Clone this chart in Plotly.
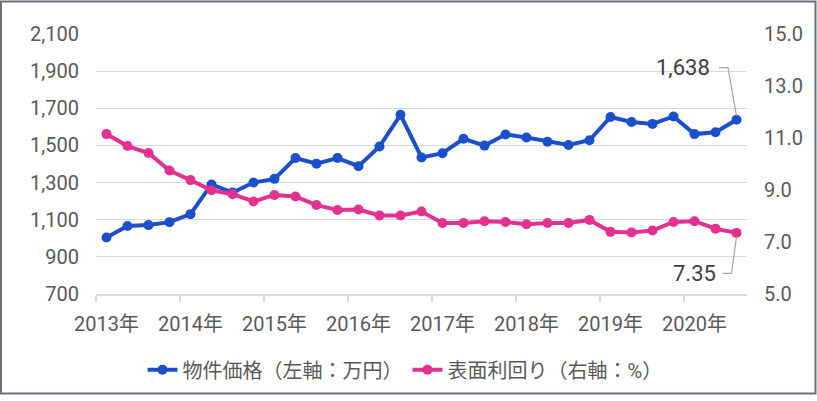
import plotly.graph_objects as go

# ---- data ----
years = ["2013年", "2014年", "2015年", "2016年", "2017年", "2018年", "2019年", "2020年"]
quarters = list(range(31))  # 2013Q1 .. 2020Q3
price = [1004, 1066, 1071, 1087, 1130, 1290, 1246, 1300, 1320, 1432, 1402, 1432, 1388, 1494, 1665,
         1435, 1458, 1536, 1499, 1559, 1543, 1520, 1502, 1528, 1653, 1626, 1616, 1656, 1561, 1571, 1638]
yield_pct = [11.15, 10.69, 10.42, 9.75, 9.38, 8.99, 8.84, 8.56, 8.81, 8.75, 8.42, 8.23, 8.25, 8.02, 8.02,
             8.17, 7.73, 7.73, 7.80, 7.77, 7.68, 7.73, 7.73, 7.85, 7.39, 7.37, 7.44, 7.77, 7.80, 7.51, 7.35]
name_price = "物件価格（左軸：万円）"
name_yield = "表面利回り（右軸：%）"

BLUE = "#1b4fcc"
PINK = "#e3318f"
TXT = "#595959"
GRID = "#d9d9d9"
FONT = "Roboto, 'Noto Sans CJK JP', sans-serif"

W, H = 817, 401
ML, MR, MT, MB = 96, 70, 34, 103
PW, PH = W - ML - MR, H - MT - MB

fig = go.Figure()
fig.add_trace(go.Scatter(x=quarters, y=price, name=name_price, mode="lines+markers",
                         line=dict(color=BLUE, width=4), marker=dict(size=10, color=BLUE)))
fig.add_trace(go.Scatter(x=quarters, y=yield_pct, name=name_yield, mode="lines+markers", yaxis="y2",
                         line=dict(color=PINK, width=4), marker=dict(size=10, color=PINK)))

# leader lines for last-value labels (offsets from last point)
xl = quarters[-1]
dx_px = 1.0 / 21.0          # x units per pixel
dyl = 1400.0 / PH           # left-axis units per pixel
dyr = 10.0 / PH             # right-axis units per pixel
fig.add_trace(go.Scatter(x=[xl - 17.5 * dx_px, xl - 8.5 * dx_px, xl],
                         y=[price[-1] + 53 * dyl, price[-1] + 53 * dyl, price[-1] + 4 * dyl],
                         mode="lines", line=dict(color="#a6a6a6", width=1.2),
                         showlegend=False, hoverinfo="skip"))
fig.add_trace(go.Scatter(x=[xl - 14 * dx_px, xl - 5 * dx_px, xl],
                         y=[yield_pct[-1] - 41 * dyr, yield_pct[-1] - 41 * dyr, yield_pct[-1] - 4 * dyr],
                         mode="lines", line=dict(color="#a6a6a6", width=1.2), yaxis="y2",
                         showlegend=False, hoverinfo="skip"))
fig.add_annotation(x=xl - 25 * dx_px, y=price[-1] + 53 * dyl, xref="x", yref="y",
                   text=f"{price[-1]:,}", showarrow=False, xanchor="right", yanchor="middle",
                   font=dict(size=22, color="#404040", family=FONT))
fig.add_annotation(x=xl - 19 * dx_px, y=yield_pct[-1] - 41 * dyr, xref="x", yref="y2",
                   text=f"{yield_pct[-1]:.2f}", showarrow=False, xanchor="right", yanchor="middle",
                   font=dict(size=22, color="#404040", family=FONT))

# outer border
fig.add_shape(type="rect", xref="paper", yref="paper",
              x0=(1 - ML) / PW, x1=(W - 1.5 - ML) / PW,
              y0=(MT + PH - (H - 2)) / PH, y1=(MT + PH - 1) / PH,
              line=dict(color="#6b7079", width=2), layer="below")

fig.update_layout(
    width=W, height=H,
    margin=dict(l=ML, r=MR, t=MT, b=MB),
    paper_bgcolor="white", plot_bgcolor="white",
    font=dict(family=FONT, size=20, color=TXT),
    showlegend=True,
    legend=dict(orientation="h", x=(405 - ML) / PW, xanchor="center",
                y=(MT + PH - 375) / PH, yanchor="middle",
                font=dict(size=20, color=TXT), itemwidth=30, tracegroupgap=0),
    xaxis=dict(range=[-0.5, 30.5], tickmode="array",
               tickvals=[4 * i for i in range(len(years))], ticktext=years,
               ticks="", showgrid=False, zeroline=False,
               showline=True, linecolor=GRID, linewidth=1.5,
               ticklabelstandoff=11,
               tickfont=dict(size=20, color=TXT),
               minor=dict(tickmode="array", tickvals=[4 * i - 0.5 for i in range(len(years))],
                          ticks="outside", ticklen=6, tickcolor=GRID, tickwidth=1.5, showgrid=False)),
    yaxis=dict(range=[700, 2100], dtick=200, tick0=700, tickformat=",",
               showgrid=True, gridcolor=GRID, gridwidth=1.3, zeroline=False,
               ticks="", ticklabelstandoff=16, tickfont=dict(size=20, color=TXT)),
    yaxis2=dict(range=[5, 15], dtick=2, tick0=5, tickformat=".1f", overlaying="y", side="right",
                showgrid=False, zeroline=False, ticks="", ticklabelstandoff=16,
                tickfont=dict(size=20, color=TXT)),
)

fig.write_html("out.html")
